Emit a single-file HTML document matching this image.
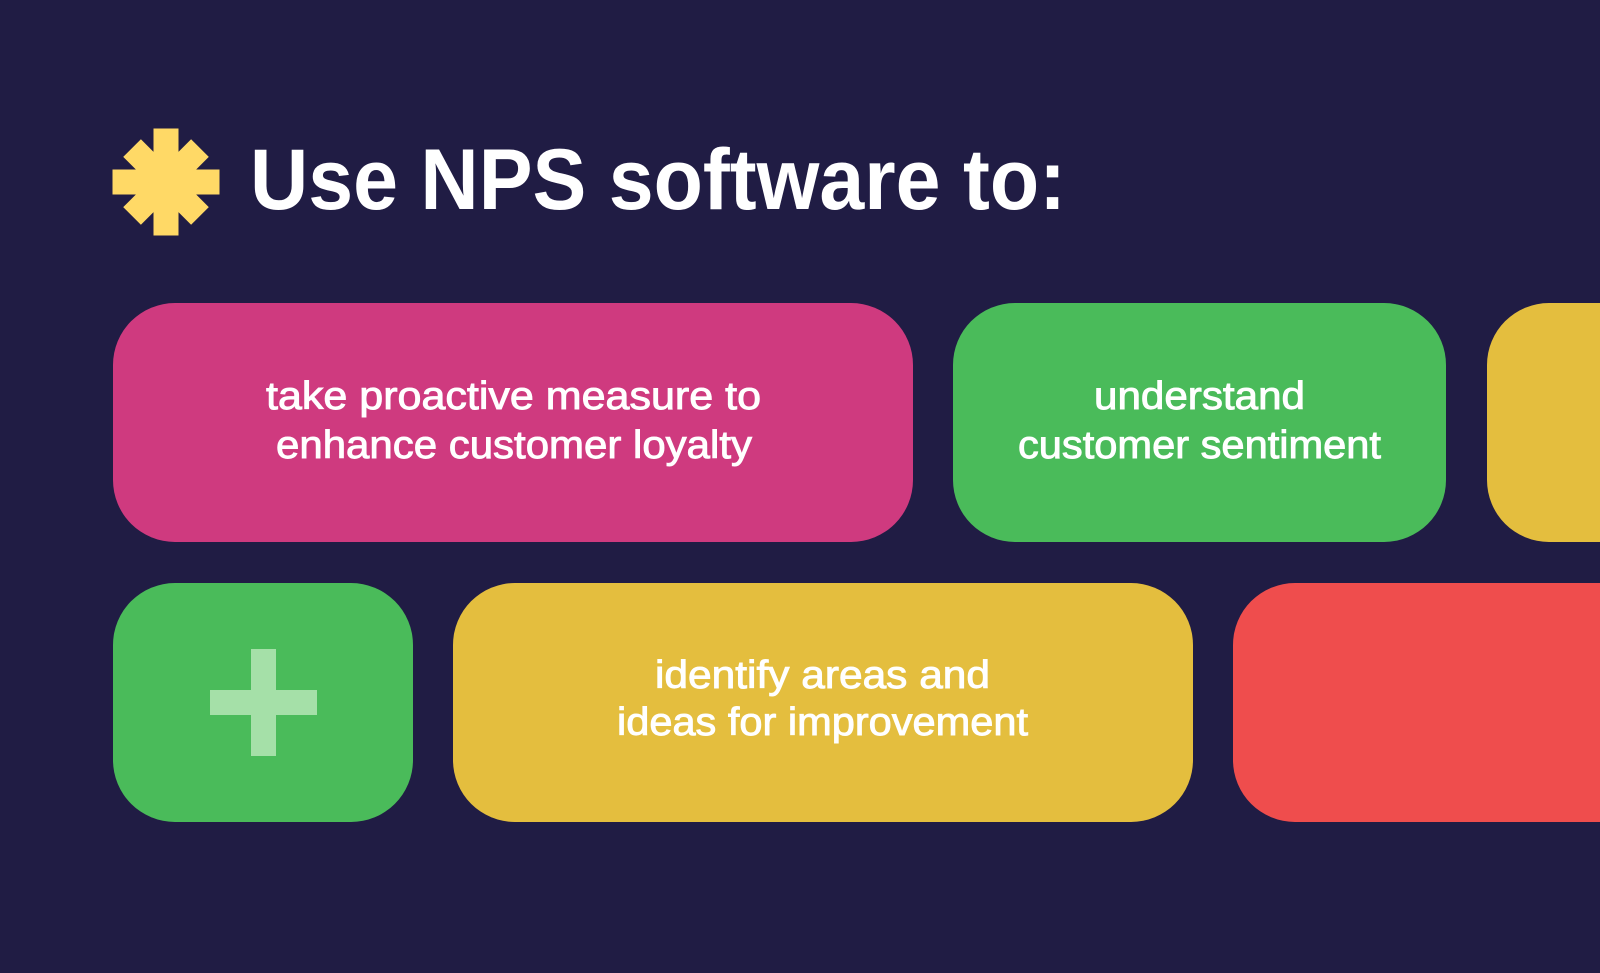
<!DOCTYPE html>
<html><head><meta charset="utf-8"><style>
html,body{margin:0;padding:0;background:#201c44;}
svg{display:block}
text{font-family:"Liberation Sans",sans-serif;fill:#fff;}
.t{font-size:39px;stroke:#fff;stroke-width:0.9px;}
</style></head><body>
<svg width="1600" height="973" viewBox="0 0 1600 973" xmlns="http://www.w3.org/2000/svg">
<rect width="1600" height="973" fill="#201c44"/>
<g fill="#ffd966" transform="translate(166,182)">
<rect x="-12.5" y="-53.5" width="25" height="107"/>
<rect x="-53.5" y="-12.5" width="107" height="25"/>
<rect x="-12.5" y="-48" width="25" height="96" transform="rotate(45)"/>
<rect x="-12.5" y="-48" width="25" height="96" transform="rotate(-45)"/>
</g>
<text x="250" y="209" font-size="86" font-weight="bold" textLength="816" lengthAdjust="spacingAndGlyphs">Use NPS software to:</text>
<rect x="113" y="303" width="800" height="239" rx="62" fill="#cf3a7f"/>
<rect x="953" y="303" width="493" height="239" rx="62" fill="#4abb5a"/>
<rect x="1487" y="303" width="200" height="239" rx="62" fill="#e4be3e"/>
<rect x="113" y="583" width="300" height="239" rx="62" fill="#4abb5a"/>
<rect x="453" y="583" width="740" height="239" rx="62" fill="#e4be3e"/>
<rect x="1233" y="583" width="450" height="239" rx="62" fill="#ef4d4d"/>
<g fill="#a5e0a8">
<rect x="251" y="649" width="25" height="107"/>
<rect x="210" y="690" width="107" height="25"/>
</g>
<text class="t" x="266" y="409" textLength="495" lengthAdjust="spacingAndGlyphs">take  proactive measure to</text>
<text class="t" x="276" y="458" textLength="476" lengthAdjust="spacingAndGlyphs">enhance customer loyalty</text>
<text class="t" x="1094" y="409" textLength="211" lengthAdjust="spacingAndGlyphs">understand</text>
<text class="t" x="1018" y="458" textLength="363" lengthAdjust="spacingAndGlyphs">customer sentiment</text>
<text class="t" x="655" y="688" textLength="335" lengthAdjust="spacingAndGlyphs">identify areas and</text>
<text class="t" x="617" y="735" textLength="411" lengthAdjust="spacingAndGlyphs">ideas for improvement</text>
</svg>
</body></html>
